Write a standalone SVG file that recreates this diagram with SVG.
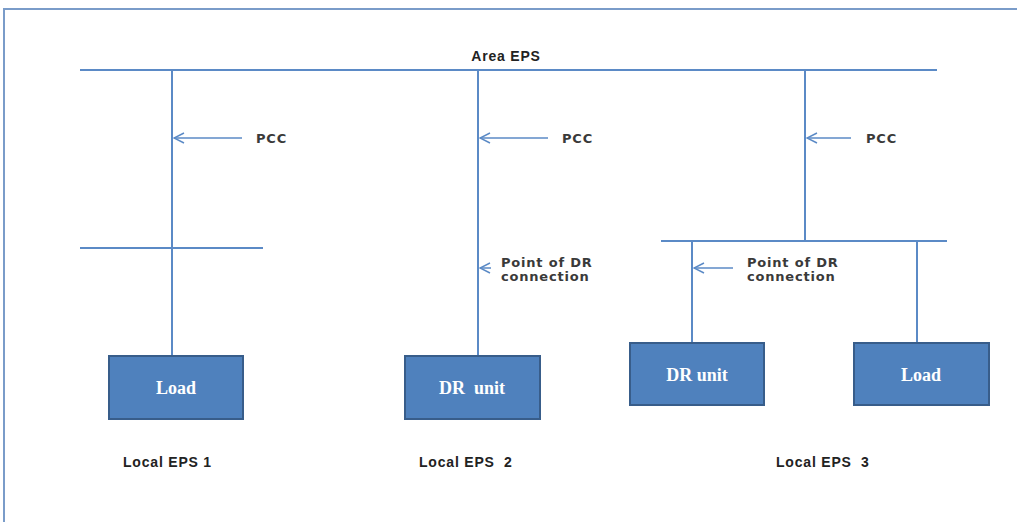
<svg xmlns="http://www.w3.org/2000/svg" width="1017" height="522" viewBox="0 0 1017 522">
<defs>
<marker id="ah" markerWidth="12" markerHeight="12" refX="11" refY="6" orient="auto" markerUnits="userSpaceOnUse">
<path d="M1,1 L11,6 L1,11" fill="none" stroke="#5b8ac6" stroke-width="1.5"/>
</marker>
<style>
.ln{stroke:#5b8ac6;stroke-width:2;fill:none}
.ar{stroke:#5b8ac6;stroke-width:1.5;fill:none}
.box{fill:#4f81bd;stroke:#385d8a;stroke-width:2}
.bt{font-family:"Liberation Serif",serif;font-size:18px;font-weight:bold;fill:#ffffff;text-anchor:middle}
.lb{font-family:"DejaVu Sans",sans-serif;font-size:13px;font-weight:bold;fill:#3a3a3a;letter-spacing:0.8px}
.cal{font-family:"Liberation Sans",sans-serif;font-size:14px;font-weight:bold;fill:#222222;letter-spacing:0.8px}
</style>
</defs>
<rect width="1017" height="522" fill="#ffffff"/>
<path d="M4,522 L4,9 L1017,9" stroke="#7a9cc9" stroke-width="2" fill="none"/>
<g id="connectors">
<line class="ln" x1="80" y1="70" x2="937" y2="70"/>
<line class="ln" x1="172" y1="70" x2="172" y2="356"/>
<line class="ln" x1="478" y1="70" x2="478" y2="356"/>
<line class="ln" x1="805" y1="70" x2="805" y2="241"/>
<line class="ln" x1="80" y1="248" x2="263" y2="248"/>
<line class="ln" x1="661" y1="241" x2="947" y2="241"/>
<line class="ln" x1="692" y1="241" x2="692" y2="343"/>
<line class="ln" x1="917" y1="241" x2="917" y2="343"/>
<line class="ar" x1="242" y1="138" x2="174" y2="138" marker-end="url(#ah)"/>
<line class="ar" x1="548" y1="138" x2="480" y2="138" marker-end="url(#ah)"/>
<line class="ar" x1="851" y1="138" x2="807" y2="138" marker-end="url(#ah)"/>
<line class="ar" x1="491" y1="268" x2="480" y2="268" marker-end="url(#ah)"/>
<line class="ar" x1="733" y1="268" x2="694" y2="268" marker-end="url(#ah)"/>
</g>
<g id="labels">
<text class="cal" x="506" y="61" text-anchor="middle">Area EPS</text>
<text class="lb" x="256" y="143">PCC</text>
<text class="lb" x="562" y="143">PCC</text>
<text class="lb" x="866" y="143">PCC</text>
<text class="lb" x="501" y="267">Point of DR</text>
<text class="lb" x="501" y="281">connection</text>
<text class="lb" x="747" y="267">Point of DR</text>
<text class="lb" x="747" y="281">connection</text>
<text class="cal" x="123" y="467">Local EPS 1</text>
<text class="cal" x="419" y="467" xml:space="preserve">Local EPS  2</text>
<text class="cal" x="776" y="467" xml:space="preserve">Local EPS  3</text>
</g>
<g id="load1"><rect class="box" x="109" y="356" width="134" height="63"/><text class="bt" x="176" y="394">Load</text></g>
<g id="dr2"><rect class="box" x="405" y="356" width="135" height="63"/><text class="bt" x="472" y="394" xml:space="preserve">DR  unit</text></g>
<g id="dr3"><rect class="box" x="630" y="343" width="134" height="62"/><text class="bt" x="697" y="381">DR unit</text></g>
<g id="load3"><rect class="box" x="854" y="343" width="135" height="62"/><text class="bt" x="921" y="381">Load</text></g>
</svg>
